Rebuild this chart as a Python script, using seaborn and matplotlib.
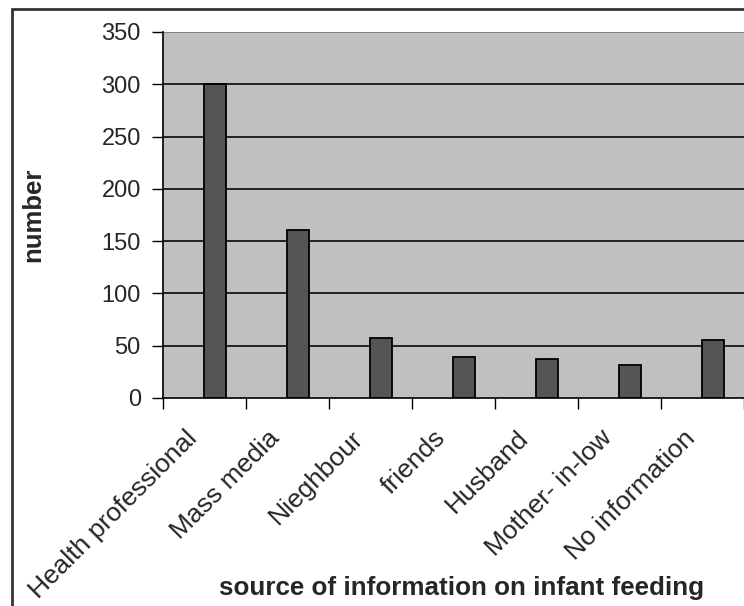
import matplotlib
matplotlib.use("Agg")
import matplotlib.pyplot as plt
import seaborn as sns
import numpy as np
import pandas as pd
from matplotlib.patches import Rectangle

categories = ["Health professional", "Mass media", "Nieghbour", "friends",
              "Husband", "Mother- in-low", "No information"]
values = [300, 161, 57, 39, 37, 32, 55]
yticks = [0, 50, 100, 150, 200, 250, 300, 350]

sns.set_theme(style="white")
plt.rcParams['font.family'] = ['Liberation Sans', 'DejaVu Sans']

fig = plt.figure(figsize=(7.44, 6.06), dpi=100)
ax = fig.add_axes([163/744, 1-398/606, 1-163/744, (398-32)/606])
ax.set_facecolor("#C0C0C0")

df = pd.DataFrame({"source": categories, "number": values})
sns.barplot(data=df, x="source", y="number", ax=ax, color="#555555",
            width=0.27, edgecolor="black", linewidth=1.3, saturation=1, zorder=3)

off = 0.13
n = len(categories)
ax.set_xlim(-0.5 - off, n - 0.5 - off)
ax.set_ylim(0, 350)
ax.set_yticks(yticks)
ax.set_yticklabels([str(t) for t in yticks], fontsize=17)
for t in yticks[1:]:
    ax.axhline(t, color="#808080" if t == 350 else "#222222", lw=1.4, zorder=1)

ax.set_xticks(np.arange(n) - off - 0.24)
ax.set_xticklabels(categories, rotation=45, ha="right", rotation_mode="anchor", fontsize=19)
ax.tick_params(axis="x", which="major", length=0, pad=20)
ax.set_xticks(np.arange(n + 1) - 0.5 - off, minor=True)
ax.tick_params(axis="x", which="minor", length=8, width=1, color="black", direction="out", bottom=True)
ax.tick_params(axis="y", length=8, width=1, color="black", direction="out", left=True, pad=8)

for s in ["top", "right"]:
    ax.spines[s].set_visible(False)
for s in ["left", "bottom"]:
    ax.spines[s].set_color("black")
    ax.spines[s].set_linewidth(1.2)
    ax.spines[s].set_zorder(4)

ax.set_xlabel("")
ax.set_ylabel("number", fontsize=18.5, fontweight="bold")
ax.yaxis.set_label_coords(45/744, 1 - 215/606, transform=fig.transFigure)
fig.text(462/744, 1-588/606, "source of information on infant feeding",
         fontsize=18.7, fontweight="bold", ha="center", va="center")

fig.patches.append(Rectangle((12/744, -0.05), 1.0, 1-9/606+0.05, transform=fig.transFigure,
                             fill=False, edgecolor="#333333", linewidth=2, zorder=0))

fig.savefig("out.png", dpi=100)
